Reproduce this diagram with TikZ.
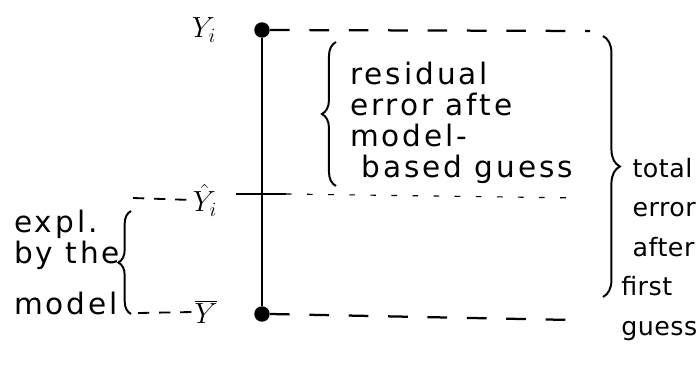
\documentclass[tikz,border=0pt]{standalone}
\usepackage{fontspec}
\newfontfamily\handfont[LetterSpace=10]{DejaVu Sans}
\newfontfamily\tighthand[LetterSpace=2]{DejaVu Sans}
\usetikzlibrary{decorations.pathreplacing}
\begin{document}
\begin{tikzpicture}[x=0.025cm, y=-0.025cm,
  dot/.style={circle, fill=black, inner sep=0pt, minimum size=11pt},
  guide/.style={line width=1.6pt, dash pattern=on 14pt off 14pt},
  shortguide/.style={line width=1.3pt, dash pattern=on 8pt off 7pt},
  faintguide/.style={line width=0.8pt, dash pattern=on 4pt off 11pt},
  curly/.style={decorate, decoration={brace, amplitude=#1}, line width=1.4pt},
  hand/.style={font=\handfont\fontsize{21}{22}\selectfont, align=left, inner sep=0pt, anchor=north west},
  lab/.style={font=\fontsize{20}{22}\selectfont, inner sep=1pt}]
  \useasboundingbox (0,0) rectangle (700,374);

  % Observed value and mean
  \node (Ytop) at (262,30) [dot] {};
  \node (Ybot) at (262,314) [dot] {};
  \draw[line width=1.2pt] (Ytop) -- (Ybot);

  % Value labels
  \node[lab] (Yi) at (204,30) {$Y_i$};
  \node[lab] (Yhat) at (205,200) {$\hat{Y}_i$};
  \node[lab] (Ybar) at (206,312) {$\overline{Y}$};

  % Guide lines
  \coordinate (topend) at (590,31);
  \coordinate (botend) at (572,320);
  \coordinate (tickL) at (236,194);
  \coordinate (tickR) at (286,194);
  \coordinate (hatend) at (580,198);
  \coordinate (hatstart) at (133,198);
  \coordinate (barstart) at (138,313);
  \draw[guide] (Ytop.east) -- (topend);
  \draw[guide] (Ybot.east) -- (botend);
  \draw[line width=1.2pt] (tickL) -- (tickR);
  \draw[faintguide] (tickR) -- (hatend);
  \draw[shortguide] (hatstart) -- (Yhat.west);
  \draw[shortguide] (barstart) -- (Ybar.west);

  % Braces
  \coordinate (resB) at (336,186);
  \coordinate (resT) at (336,42);
  \coordinate (totT) at (603,36);
  \coordinate (totB) at (603,297);
  \coordinate (expB) at (131,314);
  \coordinate (expT) at (131,211);
  \draw[curly=10pt] (resB) -- (resT);
  \draw[curly=12pt] (totT) -- (totB);
  \draw[curly=9pt] (expB) -- (expT);

  % Handwritten notes
  \node[hand] (resid) at (350,62) {residual\\error afte\\model-\\\hspace*{8pt}based guess};
  \node[hand, font=\tighthand\fontsize{18}{28}\selectfont] (total) at (621,158)
    {\hspace*{8pt}total\\\hspace*{8pt}error\\\hspace*{8pt}after\\first\\guess};
  \node[hand] (expl) at (14,210) {expl.\\by the\\[14pt]model};
\end{tikzpicture}
\end{document}
